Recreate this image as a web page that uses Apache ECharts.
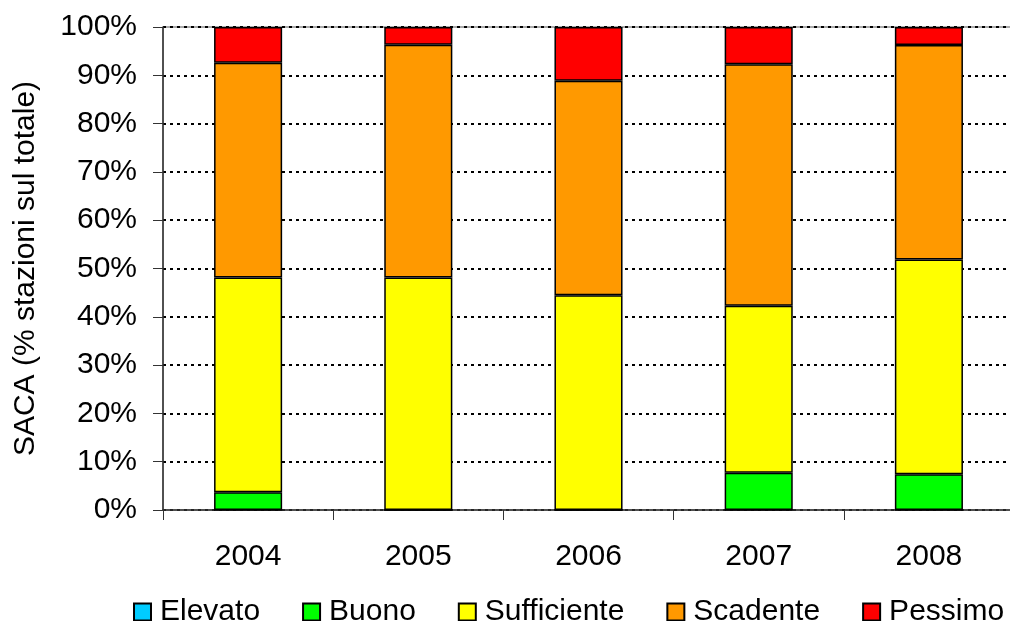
<!DOCTYPE html>
<html>
<head>
<meta charset="utf-8">
<script src="https://cdn.jsdelivr.net/npm/echarts@6/dist/echarts.min.js"></script>
<style>
  html, body { margin: 0; padding: 0; background: #fff; }
  #chart { width: 1010px; height: 621px; }
</style>
</head>
<body>
<div id="chart"></div>
<script>
// Stato ambientale delle acque sotterranee (SACA), quota percentuale di stazioni per classe
const years = ['2004', '2005', '2006', '2007', '2008'];
const classNames = ['Elevato', 'Buono', 'Sufficiente', 'Scadente', 'Pessimo'];
const elevato = [0, 0, 0, 0, 0];
const buono = [3.70, 0, 0, 7.69, 7.41];
const sufficiente = [44.44, 48.15, 44.44, 34.62, 44.44];
const scadente = [44.44, 48.15, 44.44, 50.00, 44.44];
const pessimo = [7.41, 3.70, 11.11, 7.69, 3.70];
const yTicks = { min: 0, max: 100, step: 10 };

const classColors = ['#00CCFF', '#00FF00', '#FFFF00', '#FF9900', '#FF0000'];
const seriesValues = [elevato, buono, sufficiente, scadente, pessimo];
const FONT = '"Liberation Sans", Arial, sans-serif';

const chart = echarts.init(document.getElementById('chart'), null, { renderer: 'canvas' });

chart.setOption({
  animation: false,
  backgroundColor: '#ffffff',
  textStyle: { fontFamily: FONT, color: '#000' },
  grid: {
    left: 163, right: -4, top: 27, bottom: 111,
    outerBoundsMode: 'none',
    containLabel: false,
    show: true, borderColor: '#555', borderWidth: 1, backgroundColor: 'transparent'
  },
  legend: {
    data: classNames,
    left: 128,
    right: 0,
    top: 592,
    itemWidth: 17,
    itemHeight: 17,
    itemGap: 42,
    icon: 'rect',
    textStyle: { fontFamily: FONT, fontSize: 30, color: '#000', padding: [0, 0, 0, 4] }
  },
  xAxis: {
    type: 'category',
    data: years,
    axisLine: { lineStyle: { color: '#333', width: 1.5 } },
    axisTick: { show: true, length: 10, inside: false, lineStyle: { color: '#333', width: 1 } },
    axisLabel: { fontFamily: FONT, fontSize: 30, color: '#000', margin: 32 },
    splitLine: { show: false }
  },
  yAxis: {
    type: 'value',
    min: yTicks.min,
    max: yTicks.max,
    interval: yTicks.step,
    name: 'SACA (% stazioni sul totale)',
    nameLocation: 'middle',
    nameGap: 122,
    nameTextStyle: { fontFamily: FONT, fontSize: 30, color: '#000' },
    axisLine: { show: true, lineStyle: { color: '#333', width: 1.5 } },
    axisTick: { show: true, length: 10, lineStyle: { color: '#333', width: 1 } },
    axisLabel: { fontFamily: FONT, fontSize: 30, color: '#000', margin: 26, formatter: '{value}%' },
    splitLine: { show: true, lineStyle: { color: '#000', width: 2, type: [3, 4] } }
  },
  series: classNames.map((name, i) => ({
    name: name,
    type: 'bar',
    stack: 'saca',
    barWidth: '40%',
    data: seriesValues[i],
    itemStyle: { color: classColors[i], borderColor: '#000', borderWidth: 1.5 },
    emphasis: { disabled: true }
  }))
});
</script>
</body>
</html>
